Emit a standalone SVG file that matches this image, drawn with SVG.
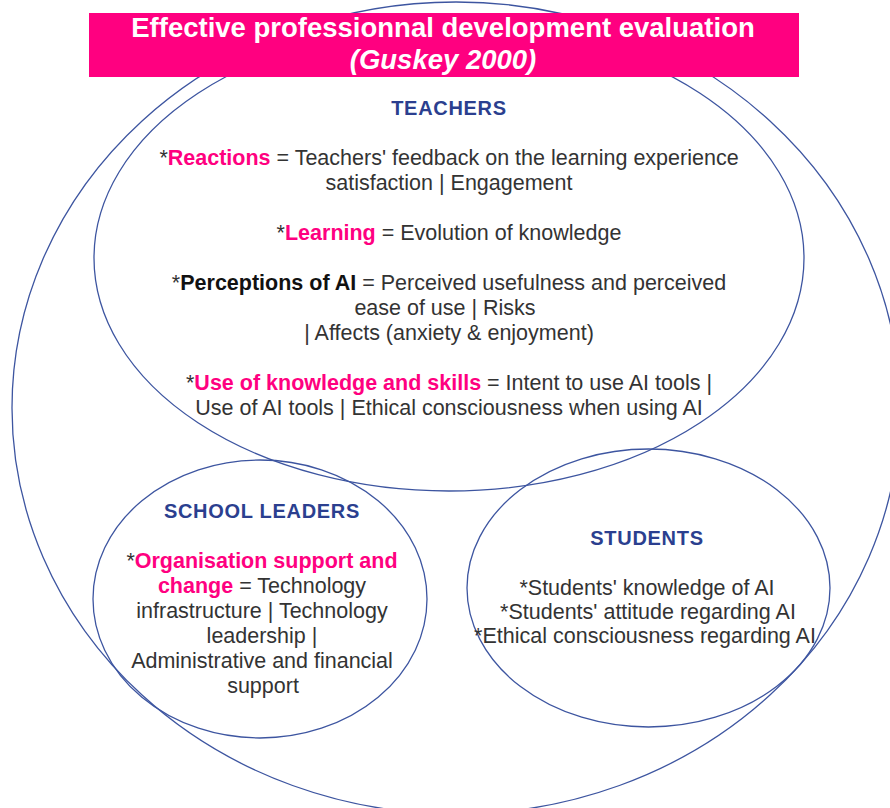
<svg xmlns="http://www.w3.org/2000/svg" width="890" height="808" viewBox="0 0 890 808">
<style>
.ring{fill:none;stroke:#3d55a0;stroke-width:1.3}
.t{font-family:"Liberation Sans",Arial,sans-serif;font-size:21.5px;fill:#333333;text-anchor:middle}
.h{font-family:"Liberation Sans",Arial,sans-serif;font-size:20px;font-weight:bold;fill:#2b3f8f;text-anchor:middle;letter-spacing:0.7px}
.pk{fill:#ff0080;font-weight:bold}
.bk{fill:#111111;font-weight:bold}
.title{font-family:"Liberation Sans",Arial,sans-serif;font-size:27.5px;font-weight:bold;fill:#ffffff;text-anchor:middle}
</style>
<rect width="890" height="808" fill="#ffffff"/>
<g id="outer">
<ellipse class="ring" cx="456" cy="408" rx="444" ry="406"/>
</g>
<g id="teachers">
<ellipse class="ring" cx="449" cy="258" rx="355" ry="233"/>
<text class="h" x="449" y="115">TEACHERS</text>
<text class="t" x="449" y="165">*<tspan class="pk">Reactions</tspan> = Teachers' feedback on the learning experience</text>
<text class="t" x="449" y="190">satisfaction | Engagement</text>
<text class="t" x="449" y="240">*<tspan class="pk">Learning</tspan> = Evolution of knowledge</text>
<text class="t" x="449" y="290">*<tspan class="bk">Perceptions of AI</tspan> = Perceived usefulness and perceived</text>
<text class="t" x="445" y="315">ease of use | Risks</text>
<text class="t" x="449" y="340">| Affects (anxiety &amp; enjoyment)</text>
<text class="t" x="449" y="390">*<tspan class="pk">Use of knowledge and skills</tspan> = Intent to use AI tools |</text>
<text class="t" x="449" y="415">Use of AI tools | Ethical consciousness when using AI</text>
</g>
<g id="school-leaders">
<ellipse class="ring" cx="260" cy="599" rx="167" ry="139"/>
<text class="h" x="262" y="518">SCHOOL LEADERS</text>
<text class="t" x="262" y="568">*<tspan class="pk">Organisation support and</tspan></text>
<text class="t" x="262" y="593"><tspan class="pk">change</tspan> = Technology</text>
<text class="t" x="262" y="618">infrastructure | Technology</text>
<text class="t" x="262" y="643">leadership |</text>
<text class="t" x="262" y="668">Administrative and financial</text>
<text class="t" x="263" y="693">support</text>
</g>
<g id="students">
<ellipse class="ring" cx="648.5" cy="588" rx="181.5" ry="139"/>
<text class="h" x="647" y="545">STUDENTS</text>
<text class="t" x="647" y="595">*Students' knowledge of AI</text>
<text class="t" x="648" y="619">*Students' attitude regarding AI</text>
<text class="t" x="645" y="643">*Ethical consciousness regarding AI</text>
</g>
<g id="title">
<rect x="89" y="13" width="710" height="64" fill="#ff0080"/>
<text class="title" x="443" y="37">Effective professionnal development evaluation</text>
<text class="title" x="443" y="69" font-style="italic">(Guskey 2000)</text>
</g>
</svg>
